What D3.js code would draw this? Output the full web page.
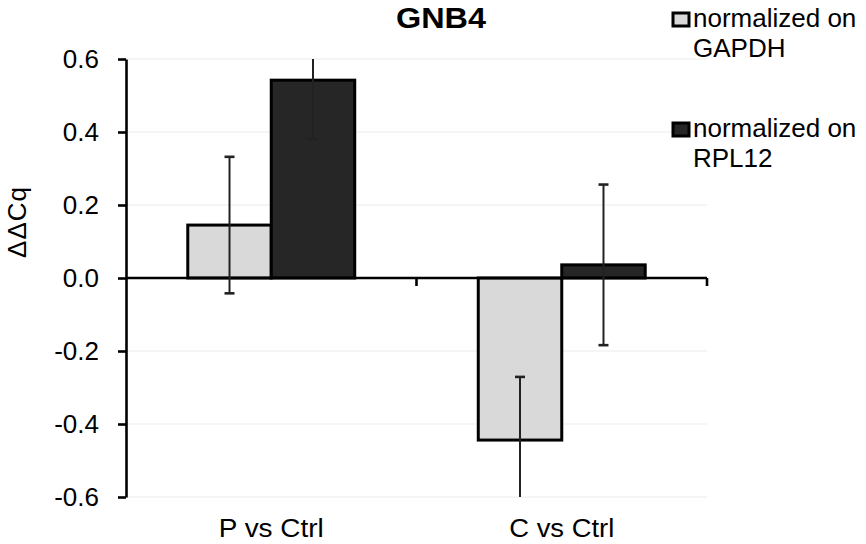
<!DOCTYPE html>
<html>
<head>
<meta charset="utf-8">
<script src="https://cdn.jsdelivr.net/npm/d3@7"></script>
<style>
  body { margin: 0; background: #fff; }
  text { font-family: "Liberation Sans", Arial, sans-serif; fill: #000; }
</style>
</head>
<body>
<svg id="chart" width="866" height="544"></svg>
<script>
// Data
const CATEGORIES = ['P vs Ctrl', 'C vs Ctrl'];
const SERIES = ['normalized on GAPDH', 'normalized on RPL12'];
const LEGEND_LINES = [['normalized on', 'GAPDH'], ['normalized on', 'RPL12']];
const GAPDH = [0.145, -0.444];
const GAPDH_ERR = [0.187, 0.173];
const RPL12 = [0.542, 0.036];
const RPL12_ERR = [0.161, 0.22];
const Y_TICKS = [-0.6, -0.4, -0.2, 0.0, 0.2, 0.4, 0.6];
const COLORS = ['#d9d9d9', '#262626'];

const VALUES = [GAPDH, RPL12];
const ERRORS = [GAPDH_ERR, RPL12_ERR];

// layout
const plot = {left: 126, right: 707, top: 59, bottom: 497};

const svg = d3.select('#chart');

const y = d3.scaleLinear([-0.6, 0.6], [plot.bottom, plot.top]);
const x0 = d3.scaleBand(CATEGORIES, [plot.left, plot.right]);
const x1 = d3.scaleBand(d3.range(SERIES.length), [0, x0.bandwidth()]).paddingOuter(0.74);

// gridlines
svg.append('g')
  .selectAll('line')
  .data(Y_TICKS.filter(d => d !== 0)).enter()
  .append('line')
    .attr('x1', plot.left)
    .attr('x2', plot.right)
    .attr('y1', d => y(d))
    .attr('y2', d => y(d))
    .attr('stroke', '#ebebeb')
    .attr('stroke-width', 1.2);

// bars
const rows = [];
CATEGORIES.forEach((c, i) => {
  SERIES.forEach((s, j) => {
    rows.push({cat: c, s: j, v: VALUES[j][i], e: ERRORS[j][i]});
  });
});

svg.append('g')
  .selectAll('rect')
  .data(rows).enter()
  .append('rect')
    .attr('x', d => x0(d.cat) + x1(d.s))
    .attr('width', x1.bandwidth())
    .attr('y', d => y(Math.max(0, d.v)))
    .attr('height', d => Math.abs(y(d.v) - y(0)))
    .attr('fill', d => COLORS[d.s])
    .attr('stroke', '#000')
    .attr('stroke-width', 3);

// x axis (at zero)
svg.append('line')
  .attr('x1', plot.left).attr('x2', plot.right)
  .attr('y1', y(0)).attr('y2', y(0))
  .attr('stroke', '#000').attr('stroke-width', 2.6);

svg.append('g')
  .selectAll('line')
  .data(CATEGORIES).enter()
  .append('line')
    .attr('x1', d => x0(d) + x0.bandwidth())
    .attr('x2', d => x0(d) + x0.bandwidth())
    .attr('y1', y(0))
    .attr('y2', y(0) + 8)
    .attr('stroke', '#000')
    .attr('stroke-width', 2.6);

// error bars, clipped to the axis range
const [lo, hi] = y.domain();
const err = svg.append('g')
  .selectAll('g')
  .data(rows).enter()
  .append('g')
  .attr('transform', d => `translate(${x0(d.cat) + x1(d.s) + x1.bandwidth() / 2},0)`);

err.append('line')
  .attr('y1', d => y(Math.min(hi, d.v + d.e)))
  .attr('y2', d => y(Math.max(lo, d.v - d.e)))
  .attr('stroke', '#222')
  .attr('stroke-width', 2);

err.each(function(d) {
  const g = d3.select(this);
  [d.v + d.e, d.v - d.e].forEach(v => {
    if (v > hi || v < lo) return;
    g.append('line')
      .attr('x1', -5).attr('x2', 5)
      .attr('y1', y(v)).attr('y2', y(v))
      .attr('stroke', '#222')
      .attr('stroke-width', 2.6);
  });
});

// y axis
const fmt = d => d3.format('.1f')(d).replace('\u2212', '-');
svg.append('g')
  .attr('transform', `translate(${plot.left},0)`)
  .call(d3.axisLeft(y).tickValues(Y_TICKS).tickFormat(fmt).tickSize(8).tickSizeOuter(0).tickPadding(19))
  .call(g => {
    g.select('.domain').attr('stroke-width', 2.6);
    g.selectAll('.tick line').attr('stroke-width', 2.6);
    g.selectAll('.tick text')
      .attr('font-size', 26)
      .attr('font-family', '"Liberation Sans", Arial, sans-serif')
      .attr('fill', '#000');
  });

// x labels
svg.append('g')
  .selectAll('text')
  .data(CATEGORIES).enter()
  .append('text')
    .attr('x', d => x0(d) + x0.bandwidth() / 2)
    .attr('y', 537)
    .attr('text-anchor', 'middle')
    .attr('font-size', 26)
    .attr('textLength', 105)
    .attr('lengthAdjust', 'spacingAndGlyphs')
    .text(d => d);

// title
svg.append('text')
  .attr('x', 441)
  .attr('y', 28)
  .attr('text-anchor', 'middle')
  .attr('font-size', 29)
  .attr('font-weight', 'bold')
  .attr('textLength', 90)
  .attr('lengthAdjust', 'spacingAndGlyphs')
  .text('GNB4');

// y label
svg.append('text')
  .attr('transform', 'translate(26,222) rotate(-90)')
  .attr('text-anchor', 'middle')
  .attr('font-size', 26)
  .attr('letter-spacing', 1)
  .text('ΔΔCq');

// legend
const legend = svg.append('g')
  .selectAll('g')
  .data(SERIES).enter()
  .append('g')
  .attr('transform', (d, i) => `translate(673,${13 + i * 110})`);

legend.append('rect')
  .attr('width', 16)
  .attr('height', 13)
  .attr('fill', (d, i) => COLORS[i])
  .attr('stroke', '#000')
  .attr('stroke-width', 3);

legend.append('text')
  .attr('x', 20)
  .attr('y', 14)
  .attr('font-size', 26)
  .text((d, i) => LEGEND_LINES[i][0]);

legend.append('text')
  .attr('x', 20)
  .attr('y', 44)
  .attr('font-size', 26)
  .text((d, i) => LEGEND_LINES[i][1]);
</script>
</body>
</html>
